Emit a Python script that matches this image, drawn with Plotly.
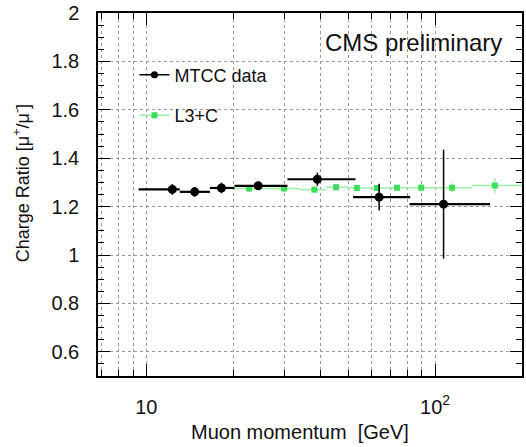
import numpy as np
import plotly.graph_objects as go

# MTCC data
mtcc_x = [12.3, 14.7, 18.2, 24.4, 39.1, 64.0, 107.0]
mtcc_lo = [9.4, 13.05, 16.6, 20.2, 30.8, 52.0, 81.6]
mtcc_hi = [13.05, 16.6, 20.2, 30.8, 53.0, 82.0, 155.0]
mtcc_y = [1.271, 1.261, 1.277, 1.286, 1.313, 1.239, 1.210]
mtcc_err = [0.022, 0.020, 0.022, 0.016, 0.027, 0.055, 0.225]

# L3+C
l3c_x = [22.7, 30.0, 38.2, 45.4, 53.6, 62.9, 73.8, 89.5, 114.5, 161.0]
l3c_lo = [20.0, 26.0, 34.0, 42.0, 50.0, 58.0, 68.0, 80.0, 100.0, 134.0]
l3c_hi = [26.0, 34.0, 42.0, 50.0, 58.0, 68.0, 80.0, 100.0, 134.0, 210.0]
l3c_y = [1.275, 1.275, 1.270, 1.280, 1.277, 1.277, 1.278, 1.278, 1.278, 1.287]
l3c_err = [0.015, 0.015, 0.015, 0.012, 0.012, 0.012, 0.012, 0.015, 0.018, 0.030]

y_ticks = [0.6, 0.8, 1.0, 1.2, 1.4, 1.6, 1.8, 2.0]
y_ticktext = ["0.6", "0.8", "1", "1.2", "1.4", "1.6", "1.8", "2"]
x_ticks = [10, 100]
x_ticktext = ["10", "10<sup>2</sup>"]
x_minor = [7, 8, 9, 20, 30, 40, 50, 60, 70, 80, 90, 200]

GREEN = "#3ddc5a"
GREEN_LINE = "#9beea9"
FONT = "Liberation Sans, Arial, sans-serif"

fig = go.Figure()

fig.add_trace(go.Scatter(
    x=l3c_x, y=l3c_y, mode="markers",
    marker=dict(symbol="square", size=6, color=GREEN),
    error_x=dict(type="data", symmetric=False,
                 array=[h - x for h, x in zip(l3c_hi, l3c_x)],
                 arrayminus=[x - l for x, l in zip(l3c_x, l3c_lo)],
                 color=GREEN_LINE, thickness=1.5, width=0),
    error_y=dict(type="data", array=l3c_err, color=GREEN_LINE, thickness=1.5, width=0),
    showlegend=False,
))

fig.add_trace(go.Scatter(
    x=mtcc_x, y=mtcc_y, mode="markers",
    marker=dict(symbol="circle", size=9, color="black"),
    error_x=dict(type="data", symmetric=False,
                 array=[h - x for h, x in zip(mtcc_hi, mtcc_x)],
                 arrayminus=[x - l for x, l in zip(mtcc_x, mtcc_lo)],
                 color="black", thickness=2.2, width=0),
    error_y=dict(type="data", array=mtcc_err, color="black", thickness=1.5, width=0),
    showlegend=False,
))

# legend entries
fig.add_trace(go.Scatter(x=[None], y=[None], mode="lines+markers", name="MTCC data",
                         line=dict(color="black", width=1.5),
                         marker=dict(symbol="circle", size=7, color="black"),
                         legendgroup="a"))
fig.add_trace(go.Scatter(x=[None], y=[None], mode="lines+markers", name="L3+C",
                         line=dict(color=GREEN_LINE, width=1.5),
                         marker=dict(symbol="square", size=6, color=GREEN),
                         legendgroup="b"))

fig.add_annotation(x=0.958, y=0.92, xref="paper", yref="paper",
                   text="CMS preliminary", showarrow=False,
                   xanchor="right", yanchor="middle",
                   font=dict(family=FONT, size=24, color="#111"))

# axis titles
fig.add_annotation(x=0.476, y=-0.154, xref="paper", yref="paper",
                   text="Muon momentum  [GeV]", showarrow=False,
                   xanchor="center", yanchor="middle",
                   font=dict(family=FONT, size=20, color="#111"))
fig.add_annotation(x=-0.18, y=0.53, xref="paper", yref="paper",
                   text="Charge Ratio [μ<sup>+</sup>/μ<sup>-</sup>]", showarrow=False,
                   textangle=-90, xanchor="center", yanchor="middle",
                   font=dict(family=FONT, size=18, color="#111"))

fig.update_layout(
    width=526, height=447,
    margin=dict(l=98, r=4, t=13, b=71),
    paper_bgcolor="white", plot_bgcolor="white",
    font=dict(family=FONT, color="#111"),
    legend=dict(x=0.086, y=0.88, xanchor="left", yanchor="top",
                bgcolor="rgba(0,0,0,0)", font=dict(size=18),
                tracegroupgap=14, itemwidth=30),
    xaxis=dict(
        type="log", range=[np.log10(6.8), np.log10(200)],
        tickmode="array", tickvals=x_ticks, ticktext=x_ticktext,
        tickfont=dict(size=20, color="#111"),
        ticks="inside", ticklen=12, tickwidth=1, tickcolor="black",
        showline=True, linecolor="black", linewidth=1.5, mirror="ticks",
        showgrid=True, gridcolor="#999", griddash="dot", gridwidth=1,
        minor=dict(tickmode="array", tickvals=x_minor, ticks="inside", ticklen=6,
                   tickcolor="black", showgrid=True, gridcolor="#999", griddash="dot"),
        ticklabelstandoff=12,
        ticklabeloverflow="allow",
        automargin=False,
        zeroline=False,
    ),
    yaxis=dict(
        range=[0.5, 2.0],
        tickmode="array", tickvals=y_ticks, ticktext=y_ticktext,
        tickfont=dict(size=20, color="#111"),
        ticks="inside", ticklen=12, tickwidth=1, tickcolor="black",
        showline=True, linecolor="black", linewidth=1.5, mirror="ticks",
        showgrid=True, gridcolor="#999", griddash="dot", gridwidth=1,
        minor=dict(dtick=0.05, tick0=0, ticks="inside", ticklen=6, tickcolor="black",
                   showgrid=False),
        ticklabelstandoff=13,
        ticklabeloverflow="allow",
        automargin=False,
        zeroline=False,
    ),
)

# remove the default 8px page margin so the figure fills the window exactly
fig.write_html("out.html", config={"displayModeBar": False},
               post_script="document.body.style.margin='0';")
